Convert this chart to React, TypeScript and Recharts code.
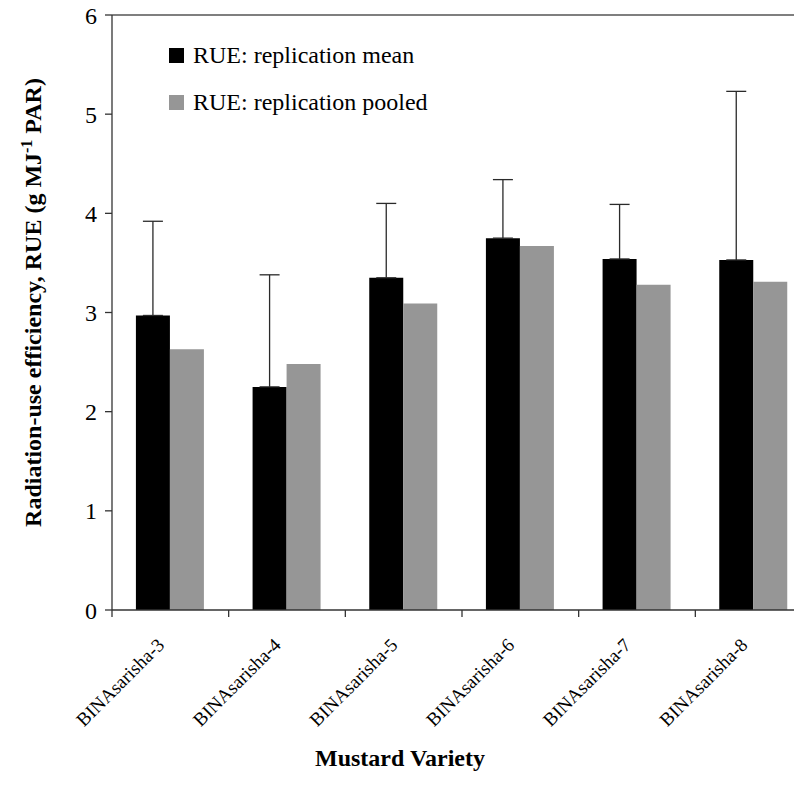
import { BarChart, Bar, XAxis, YAxis, ErrorBar, Legend, ReferenceLine, Label } from 'recharts'

const varieties = ['BINAsarisha-3', 'BINAsarisha-4', 'BINAsarisha-5', 'BINAsarisha-6', 'BINAsarisha-7', 'BINAsarisha-8']
const meanRue = [2.97, 2.25, 3.35, 3.75, 3.54, 3.53]
const pooledRue = [2.63, 2.48, 3.09, 3.67, 3.28, 3.31]
const meanErr = [0.95, 1.13, 0.75, 0.59, 0.55, 1.7]
const yTicks = [0, 1, 2, 3, 4, 5, 6]

const data = varieties.map((variety, i) => ({
  variety,
  mean: meanRue[i],
  pooled: pooledRue[i],
  err: [0, meanErr[i]]
}))

const serif = '"Liberation Serif", "Times New Roman", serif'
const axisColor = '#333'
const TICK_SIZE = 7
const TICK_MARGIN = 3

const legendItems = [
  { color: '#000', label: 'RUE: replication mean' },
  { color: '#969696', label: 'RUE: replication pooled' }
]

// category ticks: labels at the centre, tick marks on the band edges
const VarietyTick = (props: any) => {
  const { x, y, payload } = props
  const half = payload && payload.offset ? payload.offset : 0
  const top = y - TICK_SIZE - TICK_MARGIN
  return (
    <g>
      <line x1={x - half} y1={top} x2={x - half} y2={top + TICK_SIZE} stroke={axisColor} strokeWidth={1.3} />
      <text
        x={x}
        y={y}
        dy={15}
        dx={-22}
        textAnchor="end"
        transform={`rotate(-45, ${x}, ${y})`}
        fontFamily={serif}
        fontSize={19}
        fill="#000"
      >
        {payload.value}
      </text>
    </g>
  )
}

const YTitle = (props: any) => {
  const vb = props.viewBox || { x: 0, y: 15, height: 595 }
  const cx = 41
  const cy = vb.y + vb.height / 2 - 10
  return (
    <text
      x={cx}
      y={cy}
      transform={`rotate(-90, ${cx}, ${cy})`}
      textAnchor="middle"
      fontFamily={serif}
      fontWeight="bold"
      fontSize={24}
      fill="#000"
    >
      Radiation-use efficiency, RUE (g MJ
      <tspan dy={-9} fontSize={16}>-1</tspan>
      <tspan dy={9}> PAR)</tspan>
    </text>
  )
}

const XTitle = () => (
  <text x={400} y={766} textAnchor="middle" fontFamily={serif} fontWeight="bold" fontSize={24} fill="#000">
    Mustard Variety
  </text>
)

const LegendBox = () => (
  <div style={{ fontFamily: serif, fontSize: '24px', color: '#000' }}>
    {legendItems.map(item => (
      <div key={item.label} style={{ display: 'flex', alignItems: 'center', height: '47px' }}>
        <div style={{ width: '15px', height: '15px', background: item.color, marginRight: '9px' }} />
        {item.label}
      </div>
    ))}
  </div>
)

export default function App() {
  return (
    <div style={{ position: 'relative', margin: '-8px', width: 802, height: 790, overflow: 'hidden', background: '#fff' }}>
      <BarChart
        width={820}
        height={790}
        data={data}
        margin={{ top: 15, right: 8, left: 0, bottom: 80 }}
        barCategoryGap="20.5%"
        barGap={0}
      >
        <ReferenceLine y={6} stroke="#555" strokeWidth={1.5} />
        <XAxis
          dataKey="variety"
          interval={0}
          height={100}
          tickLine={false}
          tickSize={TICK_SIZE}
          tickMargin={TICK_MARGIN}
          axisLine={{ stroke: axisColor, strokeWidth: 1.3 }}
          tick={<VarietyTick />}
        >
          <Label content={<XTitle />} />
        </XAxis>
        <YAxis
          width={112}
          domain={[0, 6]}
          ticks={yTicks}
          tickSize={TICK_SIZE}
          tickMargin={8}
          axisLine={{ stroke: axisColor, strokeWidth: 1.3 }}
          tickLine={{ stroke: axisColor, strokeWidth: 1.3 }}
          tick={{ fill: '#000', fontSize: 24, fontFamily: serif }}
        >
          <Label content={<YTitle />} />
        </YAxis>
        <Legend
          layout="vertical"
          verticalAlign="middle"
          align="center"
          content={<LegendBox />}
          wrapperStyle={{ top: 32, left: 169, width: 360 }}
        />
        <Bar dataKey="mean" name="RUE: replication mean" fill="#000" isAnimationActive={false}>
          <ErrorBar dataKey="err" width={10} stroke="#2a2a2a" strokeWidth={1.3} direction="y" />
        </Bar>
        <Bar dataKey="pooled" name="RUE: replication pooled" fill="#969696" isAnimationActive={false} />
      </BarChart>
    </div>
  )
}
